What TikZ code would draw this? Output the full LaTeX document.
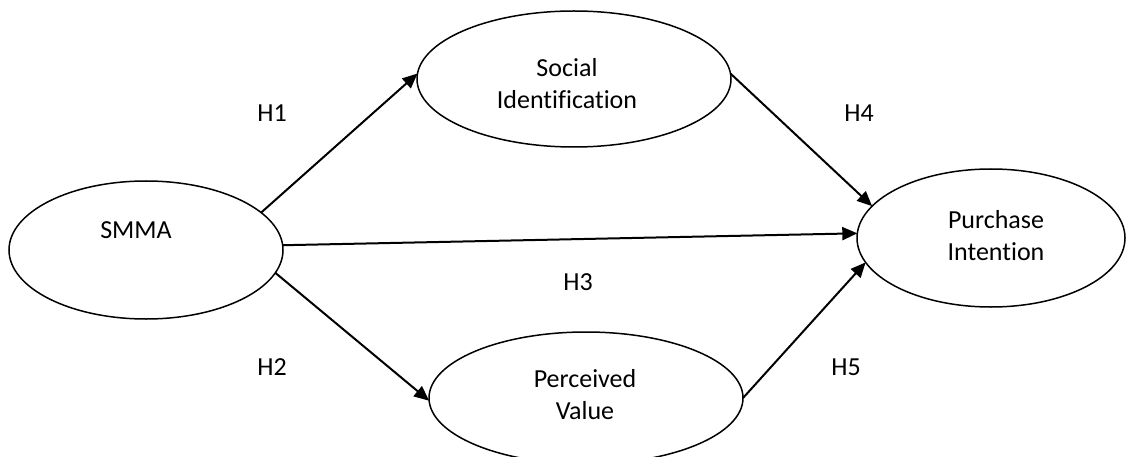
\documentclass[tikz,border=0pt]{standalone}
\usepackage{fontspec}
\setmainfont[Ligatures={NoCommon}]{Carlito}
\usetikzlibrary{shapes.geometric,arrows.meta}
\begin{document}
\begin{tikzpicture}[x=1pt,y=-1pt,
  construct/.style={draw=black,line width=1.5pt,ellipse,inner sep=0pt,outer sep=0pt},
  txt/.style={font=\fontsize{26}{32}\selectfont,align=center,inner sep=0pt},
  hyp/.style={font=\fontsize{26}{32}\selectfont,inner sep=0pt},
  path/.style={line width=2pt,-{Triangle[length=15pt,width=13pt]}}]
\useasboundingbox (0,0) rectangle (1126,457);
\clip (0,0) rectangle (1126,457);
\node[construct,minimum width=274pt,minimum height=138pt] (smma) at (146,250) {};
\node[construct,minimum width=314pt,minimum height=136pt] (si) at (574,79) {};
\node[construct,minimum width=314pt,minimum height=132pt] (pv) at (586,398) {};
\node[construct,minimum width=268pt,minimum height=138pt] (pi) at (991,238) {};
\node[txt] (smmat) at (136,230) {SMMA};
\node[txt] (sit) at (567,84) {Social\\Identification};
\node[txt] (pvt) at (585,395) {Perceived\\Value};
\node[txt] (pit) at (996,236) {Purchase\\Intention};
\draw[path] (smma.18) -- (si.178);
\draw[path] (smma.2) -- (pi.178);
\draw[path] (smma.-10) -- (pv.181);
\draw[path] (si.2) -- (pi.165);
\draw[path] (pv.0) -- (pi.191);
\node[hyp] (h1) at (272,113) {H1};
\node[hyp] (h2) at (272,367) {H2};
\node[hyp] (h3) at (578,282) {H3};
\node[hyp] (h4) at (859,113) {H4};
\node[hyp] (h5) at (846,367) {H5};
\end{tikzpicture}
\end{document}
